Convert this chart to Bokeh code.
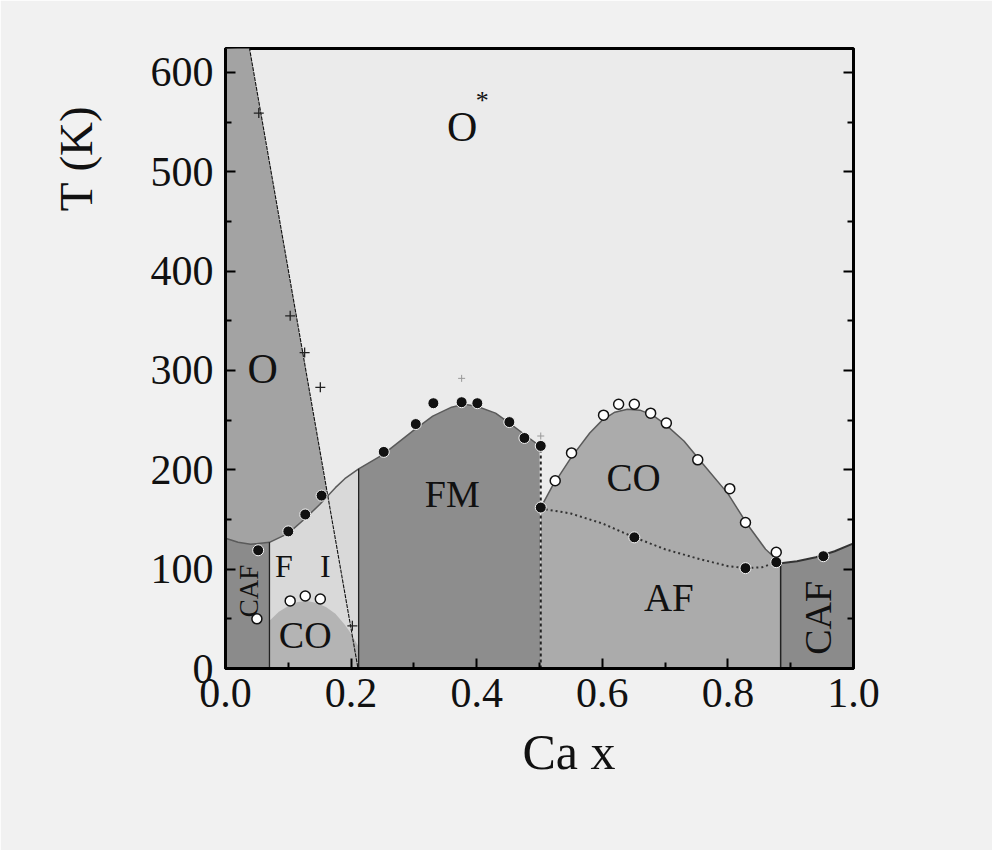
import numpy as np
from bokeh.plotting import figure
from bokeh.models import Label, FixedTicker, LinearAxis, Range1d, Title
from bokeh.embed import file_html
from bokeh.resources import INLINE

# ---------------- data ----------------
x_tick_vals = [0.0, 0.2, 0.4, 0.6, 0.8, 1.0]
x_tick_labels = ["0.0", "0.2", "0.4", "0.6", "0.8", "1.0"]
x_minor = [0.1, 0.3, 0.5, 0.7, 0.9]
y_tick_vals = [0, 100, 200, 300, 400, 500, 600]
y_minor = [50, 150, 250, 350, 450, 550]

# upper boundary (O / O* over CAF, FI, FM)
curve_x = [0.0, 0.02, 0.04, 0.07, 0.10, 0.125, 0.15, 0.175, 0.19, 0.212,
           0.25, 0.30, 0.33, 0.36, 0.38, 0.40, 0.43, 0.45, 0.475, 0.50]
curve_T = [131, 127, 125, 127, 136, 150, 165, 182, 191, 201,
           215, 240, 254, 263, 266, 264, 257, 248, 236, 224]

# O / O* structural line (diagonal)
diag_x = [0.038, 0.211]
diag_T = [625, 0]

# small CO dome (low x)
dome_x = [0.07, 0.085, 0.10, 0.115, 0.13, 0.145, 0.16, 0.175, 0.19, 0.20, 0.212]
dome_T = [48, 57, 63, 67, 68, 66, 62, 55, 44, 35, 22]

# CO dome (high x)
co_x = [0.502, 0.52, 0.55, 0.58, 0.60, 0.62, 0.64, 0.66, 0.68, 0.70,
        0.73, 0.76, 0.80, 0.83, 0.86, 0.884]
co_T = [162, 183, 212, 237, 250, 258, 261, 260, 255, 246,
        229, 206, 176, 146, 120, 106]

# CAF (high x) top boundary
caf_x = [0.884, 0.91, 0.94, 0.97, 1.0]
caf_T = [106, 108, 112, 118, 126]

# AF dotted boundary
af_x = [0.502, 0.55, 0.60, 0.651, 0.70, 0.75, 0.80, 0.828, 0.855, 0.877]
af_T = [161, 156, 146, 132, 120, 111, 103, 101, 102, 107]

# phase-boundary x values
x_caf_left = 0.07
x_fm_left = 0.212
x_half = 0.502
x_caf_right = 0.884

# measured points
filled_x = [0.052, 0.10, 0.127, 0.153, 0.252, 0.303, 0.331, 0.376, 0.401,
            0.452, 0.476, 0.502, 0.502, 0.651, 0.828, 0.877, 0.952]
filled_T = [119, 138, 155, 174, 218, 246, 267, 268, 267,
            248, 232, 224, 162, 132, 101, 107, 113]
open_x = [0.05, 0.103, 0.127, 0.151, 0.525, 0.551, 0.602, 0.626, 0.651,
          0.677, 0.702, 0.752, 0.803, 0.828, 0.877]
open_T = [50, 68, 73, 70, 189, 217, 255, 266, 266,
          257, 247, 210, 181, 147, 117]
plus_x = [0.053, 0.103, 0.126, 0.151, 0.202]
plus_T = [559, 355, 318, 283, 43]
faint_plus_x = [0.376, 0.502]
faint_plus_T = [292, 234]

# ---------------- styles ----------------
C_BG = "#f1f1f1"
C_OSTAR = "#ebebeb"
C_O = "#a3a3a3"
C_CAF = "#8b8b8b"
C_FI = "#d9d9d9"
C_FM = "#8d8d8d"
C_CO = "#ababab"
C_DOME = "#b4b4b4"
FONT = "Liberation Serif"

X0, X1 = 0.0, 1.0
Y0, Y1 = 0.0, 624.0

p = figure(width=992, height=850, output_backend="svg", toolbar_location=None,
           x_range=Range1d(X0, X1), y_range=Range1d(Y0, Y1),
           min_border_left=225, min_border_right=139,
           min_border_top=48, min_border_bottom=182)
p.background_fill_color = C_OSTAR
p.border_fill_color = C_BG
p.outline_line_color = "black"
p.outline_line_width = 3
p.grid.visible = False

cx = np.array(curve_x)
cT = np.array(curve_T)

# O region (left of diagonal); lower parts get covered by regions below the curve
p.patch([0.0, 0.0, diag_x[0], diag_x[1]], [0, Y1, diag_T[0], diag_T[1]],
        fill_color=C_O, line_color=None)


def under(xs, ts, xa, xb):
    xs = np.array(xs); ts = np.array(ts)
    m = (xs >= xa - 1e-9) & (xs <= xb + 1e-9)
    px = [xa] + list(xs[m]) + [xb]
    py = [0] + list(ts[m]) + [0]
    return px, py


px, py = under(cx, cT, 0.0, x_caf_left)
p.patch(px, py, fill_color=C_CAF, line_color=None)
px, py = under(cx, cT, x_caf_left, x_fm_left)
p.patch(px, py, fill_color=C_FI, line_color=None)
px, py = under(cx, cT, x_fm_left, x_half)
p.patch(px, py, fill_color=C_FM, line_color=None)
px, py = under(dome_x, dome_T, x_caf_left, x_fm_left)
p.patch(px, py, fill_color=C_DOME, line_color=None)
px, py = under(co_x, co_T, x_half, x_caf_right)
p.patch(px, py, fill_color=C_CO, line_color=None)
px, py = under(caf_x, caf_T, x_caf_right, 1.0)
p.patch(px, py, fill_color=C_CAF, line_color=None)

# boundary lines
p.line(curve_x, curve_T, line_color="#5a5a5a", line_width=1.5)
p.line(co_x, co_T, line_color="#5a5a5a", line_width=1.5)
p.line(caf_x, caf_T, line_color="#333333", line_width=2)
p.line(diag_x, diag_T, line_color="#111111", line_width=1.1, line_dash="4 1")
p.line(af_x, af_T, line_color="#333333", line_width=2, line_dash="2 3")
p.line([x_caf_left, x_caf_left], [0, curve_T[3]], line_color="#222222", line_width=1.3)
p.line([x_fm_left, x_fm_left], [0, curve_T[9]], line_color="#222222", line_width=1.3)
p.line([x_caf_right, x_caf_right], [0, co_T[-1]], line_color="#222222", line_width=1.5)
p.line([x_half, x_half], [0, curve_T[-1]], line_color="#222222", line_width=2, line_dash="3 3")

# markers
p.scatter(plus_x, plus_T, marker="cross", size=10, line_color="#222222", line_width=1.3)
p.scatter(faint_plus_x, faint_plus_T, marker="cross", size=7, line_color="#999999", line_width=1)
p.scatter(filled_x, filled_T, marker="circle", size=11, fill_color="#111111",
          line_color="#f4f4f4", line_width=1)
p.scatter(open_x, open_T, marker="circle", size=10, fill_color="white",
          line_color="#111111", line_width=1.5)

# axes
p.xaxis.ticker = FixedTicker(ticks=x_tick_vals, minor_ticks=x_minor)
p.xaxis.major_label_overrides = {v: s for v, s in zip(x_tick_vals, x_tick_labels)}
p.yaxis.ticker = FixedTicker(ticks=y_tick_vals, minor_ticks=y_minor)
for ax in [p.xaxis[0], p.yaxis[0]]:
    ax.axis_line_width = 3
    ax.major_tick_in = 10
    ax.major_tick_out = 0
    ax.minor_tick_in = 6
    ax.minor_tick_out = 0
    ax.major_tick_line_width = 2
    ax.minor_tick_line_width = 2
    ax.major_label_text_font = FONT
    ax.major_label_text_font_size = "42px"
    ax.major_label_text_color = "#111111"
p.xaxis.major_label_standoff = 10
p.yaxis.major_label_standoff = 12

right = LinearAxis(ticker=FixedTicker(ticks=y_tick_vals, minor_ticks=y_minor),
                   major_label_text_font_size="0px", axis_line_width=3,
                   major_tick_in=10, major_tick_out=0, minor_tick_in=6,
                   minor_tick_out=0, major_tick_line_width=2, minor_tick_line_width=2)
p.add_layout(right, "right")

# axis titles as side titles (placed like the reference)
p.add_layout(Title(text="T (K)", align="right", offset=57, standoff=91,
                   text_font=FONT, text_font_size="47px", text_font_style="normal",
                   text_color="#111111"), "left")
p.add_layout(Title(text="Ca x", align="left", offset=297, standoff=24,
                   text_font=FONT, text_font_size="50px", text_font_style="normal",
                   text_color="#111111"), "below")

# region labels
def lab(x, y, t, size, angle=0.0):
    p.add_layout(Label(x=x, y=y, text=t, angle=angle, text_font=FONT,
                       text_font_size=size, text_align="center",
                       text_baseline="middle", text_color="#111111"))

lab(0.377, 545, "O", "42px")
lab(0.409, 572, "*", "26px")
lab(0.059, 301, "O", "42px")
lab(0.093, 103, "F", "32px")
lab(0.159, 103, "I", "32px")
lab(0.127, 34, "CO", "38px")
lab(0.037, 78, "CAF", "27px", np.pi / 2)
lab(0.361, 176, "FM", "38px")
lab(0.650, 192, "CO", "39px")
lab(0.706, 71, "AF", "39px")
lab(0.944, 51, "CAF", "38px", np.pi / 2)

open("out.html", "w").write(file_html(p, INLINE))
